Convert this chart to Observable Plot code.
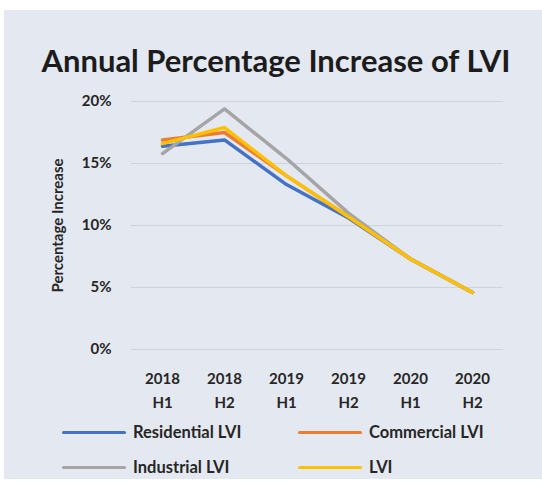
<!DOCTYPE html>
<html>
<head>
<meta charset="utf-8">
<script src="https://cdn.jsdelivr.net/npm/d3@7"></script>
<script src="https://cdn.jsdelivr.net/npm/@observablehq/plot@0.6"></script>
<style>
  html, body { margin: 0; padding: 0; background: #ffffff; }
  body { width: 542px; height: 484px; position: relative; overflow: hidden; font-family: Lato, "Open Sans", sans-serif; }
  #card { position: absolute; left: 4px; top: 10px; width: 538px; height: 469px; background: #e4e8f1; }
  #title { position: absolute; left: 0; width: 552px; top: 45px; text-align: center; font-size: 31px; font-weight: 700; color: #1c1c1c; line-height: 1; white-space: nowrap; }
  #chart { position: absolute; left: 0; top: 0; }
  #legend { position: absolute; left: 62px; top: 420px; display: grid; grid-template-columns: 236px 220px; row-gap: 11px; }
  .item { display: flex; align-items: center; height: 24px; font-size: 16.5px; font-weight: 700; color: #262626; white-space: nowrap; }
  .swatch { width: 64px; height: 3px; margin-right: 7px; border-radius: 2px; }
</style>
</head>
<body>
<div id="card"></div>
<div id="title">Annual Percentage Increase of LVI</div>
<div id="chart"></div>
<div id="legend"></div>
<script>
const periods = ["2018 H1", "2018 H2", "2019 H1", "2019 H2", "2020 H1", "2020 H2"];
const seriesNames = ["Residential LVI", "Commercial LVI", "Industrial LVI", "LVI"];
const seriesColors = ["#4472c4", "#ed7d31", "#a5a5a5", "#ffc000"];
const residential = [16.4, 16.9, 13.3, 10.6, 7.3, 4.6];
const commercial  = [16.9, 17.5, 14.0, 10.7, 7.3, 4.6];
const industrial  = [15.8, 19.4, 15.4, 11.0, 7.3, 4.6];
const lvi         = [16.6, 17.9, 14.0, 10.7, 7.3, 4.6];
const yTicks = [0, 5, 10, 15, 20];

const seriesValues = [residential, commercial, industrial, lvi];
const data = seriesNames.flatMap((name, s) =>
  periods.map((p, i) => ({ period: p, series: name, value: seriesValues[s][i] }))
);

const chart = Plot.plot({
  width: 542,
  height: 410,
  marginLeft: 131,
  marginRight: 39,
  marginTop: 101,
  marginBottom: 61,
  style: { background: "transparent", fontFamily: "Lato, 'Open Sans', sans-serif", fontWeight: "bold", fontSize: "15px", color: "#262626" },
  x: { type: "point", domain: periods, padding: 0.5 },
  y: { domain: [0, 20] },
  color: { domain: seriesNames, range: seriesColors },
  marks: [
    Plot.gridY(yTicks, { stroke: "#cfd3dd", strokeOpacity: 1, strokeWidth: 1 }),
    Plot.axisY(yTicks, { tickSize: 0, tickPadding: 20, tickFormat: d => d + "%", label: "Percentage Increase", labelAnchor: "center", labelOffset: 79, labelArrow: "none", fontSize: 15 }),
    Plot.axisX({ tickSize: 0, tickPadding: 17, tickFormat: d => d.replace(" ", "\n"), lineHeight: 1.6, label: null, fontSize: 15 }),
    Plot.lineY(data, { x: "period", y: "value", z: "series", stroke: "series", strokeWidth: 3.5, strokeLinejoin: "round", strokeLinecap: "round" })
  ]
});
document.getElementById("chart").appendChild(chart);

const legend = document.getElementById("legend");
seriesNames.forEach((name, i) => {
  const item = document.createElement("div");
  item.className = "item";
  const sw = document.createElement("span");
  sw.className = "swatch";
  sw.style.background = seriesColors[i];
  item.appendChild(sw);
  item.appendChild(document.createTextNode(name));
  legend.appendChild(item);
});
</script>
</body>
</html>
